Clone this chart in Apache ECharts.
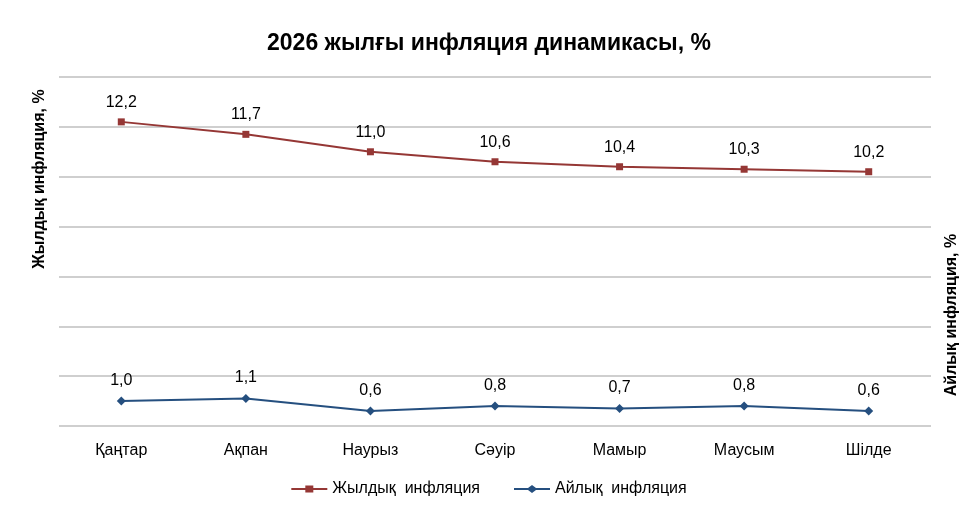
<!DOCTYPE html>
<html>
<head>
<meta charset="utf-8">
<script src="https://cdn.jsdelivr.net/npm/echarts@6/dist/echarts.min.js"></script>
<style>
  html, body { margin: 0; padding: 0; background: #fff; }
  #chart { width: 978px; height: 512px; }
</style>
</head>
<body>
<div id="chart"></div>
<script>
  // months (Kazakh)
  const months = ['Қаңтар', 'Ақпан', 'Наурыз', 'Сәуір', 'Мамыр', 'Маусым', 'Шілде'];
  // year-on-year inflation, %
  const annual = [12.2, 11.7, 11.0, 10.6, 10.4, 10.3, 10.2];
  // month-on-month inflation, %
  const monthly = [1.0, 1.1, 0.6, 0.8, 0.7, 0.8, 0.6];

  const FONT = 'Liberation Sans, Arial, sans-serif';
  const RED = '#953735';
  const BLUE = '#254F7F';
  const fmt = p => p.value.toFixed(1).replace('.', ',');

  const chart = echarts.init(document.getElementById('chart'), null, { renderer: 'canvas' });
  chart.setOption({
    backgroundColor: '#fff',
    animation: false,
    title: {
      text: '2026 жылғы инфляция динамикасы, %',
      left: 'center', top: 27,
      textStyle: { fontFamily: FONT, fontSize: 23, fontWeight: 'bold', color: '#000' },
    },
    grid: { left: 59, right: 47, top: 77, bottom: 86 },
    legend: {
      bottom: 10, left: 'center', itemGap: 34, itemWidth: 36, itemHeight: 8,
      textStyle: { fontFamily: FONT, fontSize: 16, color: '#000' },
      data: [
        { name: 'Жылдық  инфляция', icon: 'path://M0,3H14V0.5H22V3H36V5H22V7.5H14V5H0Z' },
        { name: 'Айлық  инфляция', icon: 'path://M0,3H14L18,0L22,3H36V5H22L18,8L14,5H0Z' },
      ],
    },
    xAxis: {
      type: 'category', data: months, boundaryGap: true,
      axisLine: { show: false }, axisTick: { show: false },
      axisLabel: { fontFamily: FONT, fontSize: 16, color: '#000', margin: 17 },
    },
    yAxis: [
      {
        type: 'value', min: 0, max: 14, interval: 2,
        axisLabel: { show: false }, axisLine: { show: false }, axisTick: { show: false },
        splitLine: { lineStyle: { color: '#BFBFBF', width: 1.5 } },
      },
      {
        type: 'value', min: 0, max: 14, interval: 2, position: 'right',
        axisLabel: { show: false }, axisLine: { show: false }, axisTick: { show: false },
        splitLine: { show: false },
      },
    ],
    graphic: [
      {
        type: 'text', x: 40, y: 179, rotation: Math.PI / 2,
        style: { text: 'Жылдық инфляция, %', fontFamily: FONT, fontSize: 16, fontWeight: 'bold', fill: '#000', align: 'center', verticalAlign: 'middle' },
      },
      {
        type: 'text', x: 952, y: 315, rotation: Math.PI / 2,
        style: { text: 'Айлық инфляция, %', fontFamily: FONT, fontSize: 16, fontWeight: 'bold', fill: '#000', align: 'center', verticalAlign: 'middle' },
      },
    ],
    series: [
      {
        name: 'Жылдық  инфляция', type: 'line', yAxisIndex: 0, data: annual,
        symbol: 'rect', symbolSize: 7, color: RED,
        lineStyle: { color: RED, width: 2 }, itemStyle: { color: RED },
        label: { show: true, position: 'top', distance: 8, formatter: fmt, fontFamily: FONT, fontSize: 16, color: '#000' },
      },
      {
        name: 'Айлық  инфляция', type: 'line', yAxisIndex: 1, data: monthly,
        symbol: 'diamond', symbolSize: 9, color: BLUE,
        lineStyle: { color: BLUE, width: 2 }, itemStyle: { color: BLUE },
        label: { show: true, position: 'top', distance: 8, formatter: fmt, fontFamily: FONT, fontSize: 16, color: '#000' },
      },
    ],
  });
</script>
</body>
</html>
